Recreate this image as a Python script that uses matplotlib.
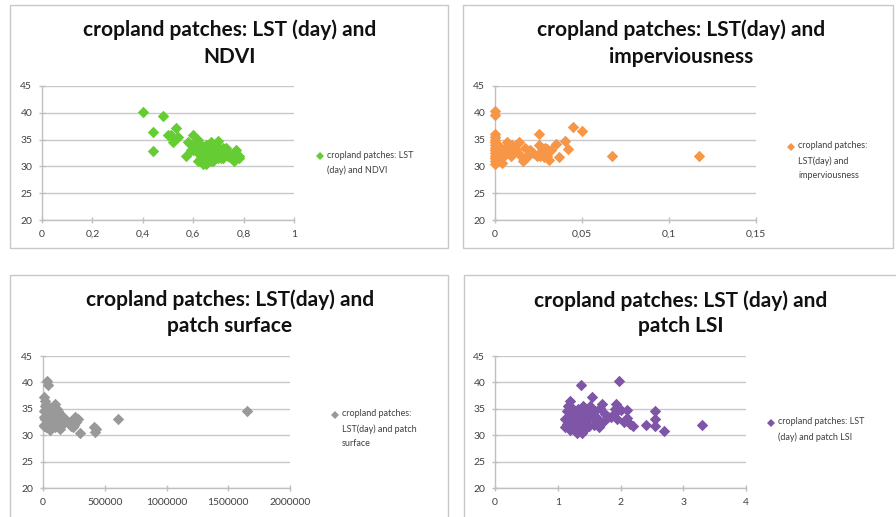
import matplotlib
matplotlib.use("Agg")
import matplotlib.pyplot as plt
from matplotlib.patches import Rectangle
from matplotlib.lines import Line2D

# ---------------- data ----------------
ndvi = [0.40,0.48,0.44,0.44,0.53,0.51,0.52,0.54,0.50,0.58,0.60,0.59,0.57,0.60,0.62,0.63,0.61,0.64,0.65,0.66,
        0.67,0.68,0.69,0.70,0.71,0.72,0.73,0.74,0.75,0.76,0.77,0.78,0.78,0.64,0.66,0.68,0.70,0.72,0.62,0.65,
        0.67,0.69,0.71,0.73,0.63,0.66,0.68,0.70,0.74,0.76,0.60,0.64,0.67,0.69,0.72,0.65,0.68,0.71,0.62,0.66]
lst_ndvi = [40.2,39.4,36.4,32.9,37.2,35.8,34.5,35.5,35.9,34.5,35.8,33.0,32.0,34.0,35.0,34.0,33.5,30.5,30.5,33.0,
            34.5,32.0,33.5,34.8,33.0,32.5,33.5,32.0,31.5,31.0,33.0,32.0,31.5,32.5,33.5,31.0,32.0,31.5,32.5,34.0,
            32.0,33.0,32.5,33.0,31.5,34.0,33.0,31.5,32.0,32.5,33.0,33.0,31.0,34.0,33.5,32.0,34.0,31.5,31.0,32.5]

imperv = [0,0,0,0,0,0,0,0,0,0,0,0,0,0,
          0.001,0.002,0.003,0.004,0.005,0.006,0.007,0.008,0.009,0.010,0.012,0.014,0.015,0.016,0.017,0.018,
          0.020,0.022,0.024,0.025,0.025,0.026,0.027,0.028,0.029,0.030,0.031,0.032,0.035,0.037,0.040,0.042,
          0.045,0.050,0.067,0.117,0.004,0.011,0.020,0.030]
lst_imperv = [40.3,39.5,36.0,35.5,35.0,34.5,34.0,33.5,33.0,32.5,32.0,31.5,31.0,30.5,
              33.0,34.0,32.0,30.7,32.5,33.5,34.5,33.5,32.0,34.0,33.0,34.5,32.0,31.0,33.5,31.5,
              33.0,32.5,32.0,36.0,34.0,32.0,33.0,31.8,33.5,32.0,31.2,33.0,34.2,31.8,34.8,33.2,
              37.4,36.6,32.0,32.0,31.5,33.0,32.5,33.3]

surface = [30000,40000,10000,15000,20000,5000,8000,12000,25000,35000,45000,50000,60000,70000,80000,
           90000,100000,110000,120000,130000,140000,150000,160000,180000,200000,220000,240000,250000,
           260000,270000,280000,300000,410000,420000,430000,610000,1650000,20000,40000,60000,80000,
           100000,120000,140000,30000,50000,70000,90000,110000,130000,10000,25000,75000,95000,170000,230000]
lst_surface = [40.2,39.5,37.2,36.5,35.5,34.5,33.5,32.0,31.5,33.0,34.5,35.0,31.0,33.5,34.5,
               32.5,36.0,35.0,33.0,31.5,34.0,32.0,33.5,33.0,32.5,32.5,31.5,32.0,
               33.5,32.5,33.0,30.5,31.5,30.7,31.2,33.0,34.5,33.0,32.0,34.0,33.0,
               31.5,34.5,31.2,35.5,31.5,32.5,34.0,33.5,32.0,31.8,36.0,34.2,35.2,32.8,31.8]

lsi = [1.37,1.97,1.20,1.55,1.70,1.93,1.92,2.10,2.55,2.55,2.40,2.55,2.70,3.30,2.20,2.10,1.80,1.90,1.12,1.15,
       1.18,1.20,1.22,1.25,1.28,1.30,1.32,1.35,1.38,1.40,1.42,1.45,1.48,1.50,1.52,1.55,1.58,1.60,1.62,1.65,
       1.68,1.72,1.75,1.85,1.95,2.00,2.05,2.15,1.12,1.16,1.20,1.24,1.28,1.32,1.36,1.40,1.44,1.48,1.14,1.22,
       1.30,1.38,1.46,1.54,1.62,1.26,1.34,1.42]
lst_lsi = [39.5,40.2,36.5,37.2,36.0,36.0,35.0,34.8,34.5,33.0,32.0,31.8,30.8,32.0,31.8,33.2,33.5,34.0,33.0,34.5,
           32.0,31.0,33.5,35.0,32.0,30.5,34.0,33.0,31.5,35.5,32.5,34.5,33.0,31.8,35.5,33.5,32.0,34.5,33.0,31.5,
           35.2,32.5,34.0,33.5,33.0,34.8,32.5,32.2,31.5,35.5,33.8,32.8,31.0,35.0,32.5,34.2,31.2,33.8,32.2,34.2,
           31.8,30.5,32.8,34.8,33.2,33.0,32.0,31.5]

titles = ["cropland patches: LST (day) and\nNDVI",
          "cropland patches: LST(day) and\nimperviousness",
          "cropland patches: LST(day) and\npatch surface",
          "cropland patches: LST (day) and\npatch LSI"]
legend_labels = ["cropland patches: LST\n(day) and NDVI",
                 "cropland patches:\nLST(day) and\nimperviousness",
                 "cropland patches:\nLST(day) and patch\nsurface",
                 "cropland patches: LST\n(day) and patch LSI"]
xticks = [[0, 0.2, 0.4, 0.6, 0.8, 1],
          [0, 0.05, 0.1, 0.15],
          [0, 500000, 1000000, 1500000, 2000000],
          [0, 1, 2, 3, 4]]
xticklabels = [["0", "0,2", "0,4", "0,6", "0,8", "1"],
               ["0", "0,05", "0,1", "0,15"],
               ["0", "500000", "1000000", "1500000", "2000000"],
               ["0", "1", "2", "3", "4"]]
yticks = [20, 25, 30, 35, 40, 45]
colors = ["#66CC33", "#F79646", "#999999", "#7F55A8"]

xs = [ndvi, imperv, surface, lsi]
ys = [lst_ndvi, lst_imperv, lst_surface, lst_lsi]

# ---------------- layout ----------------
W, H = 896, 517
fig = plt.figure(figsize=(W / 100, H / 100), dpi=100)
fig.patch.set_facecolor("white")

def fx(px):
    return px / W

def fy(py):
    return 1 - py / H

# panel borders (px): left, top, right, bottom
borders = [(10, 5, 448, 248), (463, 5, 893, 248), (10, 275, 448, 530), (464, 275, 900, 530)]
for (l, t, r, b) in borders:
    fig.patches.append(Rectangle((fx(l), fy(b)), fx(r - l), fy(t) - fy(b),
                                 transform=fig.transFigure, fill=False,
                                 edgecolor="#C8C8C8", linewidth=1.0))

# axes rectangles (px): left, top(45), right, bottom(20)
axes_px = [(42, 86, 294, 220), (495, 86, 756, 220), (43, 356, 290, 488), (495, 356, 746, 488)]
title_pos = [(230, 30, 57), (681, 30, 57), (230, 300, 326), (681, 301, 326)]
# legend marker centre (px)
legend_pos = [(320, 156), (791, 147), (335, 415), (771, 423)]

font = "Lato"
for i in range(4):
    l, t, r, b = axes_px[i]
    ax = fig.add_axes([fx(l), fy(b), fx(r - l), fy(t) - fy(b)])
    ax.scatter(xs[i], ys[i], marker="D", s=34, color=colors[i], linewidths=0,
               zorder=3, clip_on=False)
    ax.set_xlim(xticks[i][0], xticks[i][-1])
    ax.set_ylim(20, 45)
    ax.set_xticks(xticks[i])
    ax.set_xticklabels(xticklabels[i], fontsize=7.5, color="#404040", family=font)
    ax.set_yticks(yticks)
    ax.set_yticklabels([str(v) for v in yticks], fontsize=7.5, color="#404040", family=font)
    ax.grid(axis="y", color="#C8C8C8", linewidth=1.0, zorder=0)
    for s in ["top", "right"]:
        ax.spines[s].set_visible(False)
    for s in ["left", "bottom"]:
        ax.spines[s].set_color("#C0C0C0")
        ax.spines[s].set_linewidth(1.0)
    ax.tick_params(axis="both", direction="inout", length=4, color="#C0C0C0", width=1.0, pad=5)
    ax.set_axisbelow(True)

    cx, y1, y2 = title_pos[i]
    ln = titles[i].split("\n")
    fig.text(fx(cx), fy(y1), ln[0], ha="center", va="center", fontsize=15,
             fontweight="bold", family=font, color="#111111")
    fig.text(fx(cx), fy(y2), ln[1], ha="center", va="center", fontsize=15,
             fontweight="bold", family=font, color="#111111")

    # legend (marker + label)
    lx, ly = legend_pos[i]
    fig.add_artist(Line2D([fx(lx)], [fy(ly)], marker="D", markersize=4.5, color=colors[i],
                          markeredgewidth=0, linestyle="none", transform=fig.transFigure))
    fig.text(fx(lx + 7), fy(ly - 5.5), legend_labels[i], ha="left", va="top", fontsize=6.5,
             family=font, color="#404040", linespacing=1.75)

fig.savefig("out.png", dpi=100, facecolor="white")
